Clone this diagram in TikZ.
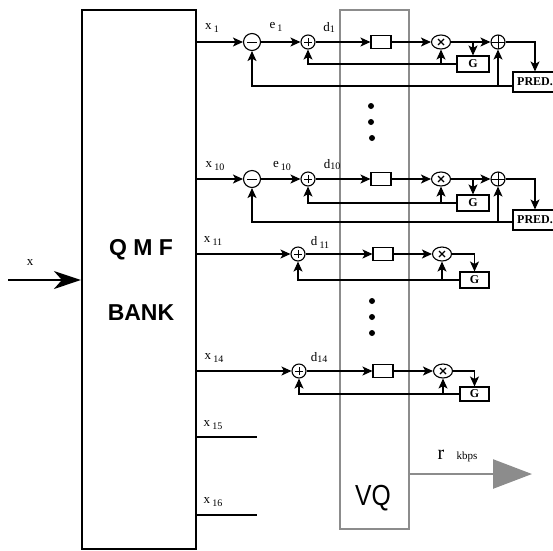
\documentclass[tikz,border=0pt]{standalone}
\usepackage{fontspec}
\setmainfont{Liberation Serif}
\newfontfamily\hv{Liberation Sans}
\usetikzlibrary{arrows.meta,shapes.geometric,calc}
\newcommand\sbx[2]{#1\,\raisebox{-3pt}{\fontsize{10}{10}\selectfont #2}}
\newcommand\sbd[2]{#1\raisebox{-1pt}{\fontsize{10}{10}\selectfont #2}}
\begin{document}
\begin{tikzpicture}[x=1pt,y=-1pt,
  ln/.style={line width=1.1pt},
  arr/.style={ln,-{Stealth[length=10pt,width=9pt,inset=2.5pt]}},
  subc/.style={circle,draw,ln,minimum size=17pt,inner sep=0pt,
    path picture={\draw[line width=1pt] ([xshift=-5pt]path picture bounding box.center)--([xshift=5pt]path picture bounding box.center);}},
  addc/.style={circle,draw,ln,minimum size=14pt,inner sep=0pt,
    path picture={\draw[line width=1pt] ([xshift=-4pt]path picture bounding box.center)--([xshift=4pt]path picture bounding box.center) ([yshift=-4pt]path picture bounding box.center)--([yshift=4pt]path picture bounding box.center);}},
  mulc/.style={ellipse,draw,ln,minimum width=19pt,minimum height=14pt,inner sep=0pt,
    path picture={\draw[line width=1.2pt] ([shift={(-3pt,-3pt)}]path picture bounding box.center)--([shift={(3pt,3pt)}]path picture bounding box.center) ([shift={(-3pt,3pt)}]path picture bounding box.center)--([shift={(3pt,-3pt)}]path picture bounding box.center);}},
  sumc/.style={circle,draw,ln,minimum size=14pt,inner sep=0pt,
    path picture={\draw[line width=1pt] (path picture bounding box.west)--(path picture bounding box.east) (path picture bounding box.north)--(path picture bounding box.south);}},
  qbox/.style={draw,ln,minimum width=20pt,minimum height=13pt,inner sep=0pt},
  gbox/.style={draw,ln,minimum width=32pt,minimum height=16pt,inner sep=0pt,font=\fontsize{12}{12}\selectfont\bfseries},
  predbox/.style={draw,ln,minimum width=44pt,minimum height=20pt,inner sep=0pt,font=\fontsize{12}{12}\selectfont\bfseries},
  lab/.style={inner sep=0pt,font=\fontsize{13}{13}\selectfont},
  dot/.style={circle,fill,inner sep=0pt,minimum size=6pt}
]
\useasboundingbox (0,0) rectangle (553,550);
\definecolor{vqgray}{RGB}{140,140,140}

% QMF bank
\node[draw,line width=2.2pt,minimum width=114pt,minimum height=539pt,inner sep=0pt] (qmf) at (139,279.5) {};
\node[inner sep=0pt,font=\hv\bfseries\fontsize{23}{23}\selectfont] (tq) at (141,250) {Q M F};
\node[inner sep=0pt,font=\hv\bfseries\fontsize{23}{23}\selectfont] (tb) at (141,313) {BANK};

% VQ box
\node[draw=vqgray,line width=2.5pt,minimum width=69pt,minimum height=519pt,inner sep=0pt] (vq) at (374.5,269.5) {};
\node[inner sep=0pt,font=\hv\fontsize{29}{29}\selectfont] (tvq) at (373,498) {\scalebox{0.85}[1]{VQ}};

% input
\coordinate (xin) at (8,280);
\draw[line width=2pt,-{Stealth[length=27pt,width=18pt,inset=8pt]}] (xin) -- (qmf.west |- xin);
\node[lab] (lx) at (30,263) {x};

% ---------- row 1 ----------
\node[subc] (s1) at (252,42) {};
\node[addc] (a1) at (308,42) {};
\node[qbox] (q1) at (381,42) {};
\node[mulc] (m1) at (441,42) {};
\node[sumc] (p1) at (498,42) {};
\node[gbox] (g1) at (473,64) {G};
\node[predbox] (r1) at (535,82) {PRED.};
\node[lab] (lx1) at (212,28) {\sbx{x}{1}};
\node[lab] (le1) at (276,27) {\sbx{e}{1}};
\node[lab] (ld1) at (329,27) {\sbd{d}{1}};
\draw[arr] (qmf.east |- s1) -- (s1);
\draw[arr] (s1) -- (a1);
\draw[arr] (a1) -- (q1);
\draw[arr] (q1) -- (m1);
\draw[arr] (m1) -- (p1);
\draw[arr] (g1.north |- m1) -- (g1.north);
\draw[arr] (g1.west) -| (a1);
\draw[arr] (m1 |- g1.west) -- (m1);
\draw[arr] (p1) -| (r1);
\coordinate (f1) at ([yshift=-4pt]r1.west);
\draw[arr] (f1) -| (s1);
\draw[arr] (p1 |- f1) -- (p1);

\node[dot] (d1a) at (371,106) {};
\node[dot] (d1b) at (371,122) {};
\node[dot] (d1c) at (372,138) {};

% ---------- row 10 ----------
\node[subc] (s10) at (252,179) {};
\node[addc] (a10) at (308,179) {};
\node[qbox] (q10) at (381,179) {};
\node[mulc] (m10) at (441,179) {};
\node[sumc] (p10) at (498,179) {};
\node[gbox] (g10) at (473,203) {G};
\node[predbox] (r10) at (535,220) {PRED.};
\node[lab] (lx10) at (215,166) {\sbx{x}{10}};
\node[lab] (le10) at (282,166) {\sbx{e}{10}};
\node[lab] (ld10) at (332,165) {\sbd{d}{10}};
\draw[arr] (qmf.east |- s10) -- (s10);
\draw[arr] (s10) -- (a10);
\draw[arr] (a10) -- (q10);
\draw[arr] (q10) -- (m10);
\draw[arr] (m10) -- (p10);
\draw[arr] (g10.north |- m10) -- (g10.north);
\draw[arr] (g10.west) -| (a10);
\draw[arr] (m10 |- g10.west) -- (m10);
\draw[arr] (p10) -| (r10);
\coordinate (f10) at ([yshift=-2pt]r10.west);
\draw[arr] (f10) -| (s10);
\draw[arr] (p10 |- f10) -- (p10);

% ---------- row 11 ----------
\node[addc] (a11) at (298,254) {};
\node[qbox] (q11) at (383,254) {};
\node[mulc] (m11) at (442,254) {};
\node[gbox,minimum width=29pt] (g11) at (474.5,280) {G};
\node[lab] (lx11) at (213,241) {\sbx{x}{11}};
\node[lab] (ld11) at (320,242) {\sbx{d}{11}};
\draw[arr] (qmf.east |- a11) -- (a11);
\draw[arr] (a11) -- (q11);
\draw[arr] (q11) -- (m11);
\draw[arr] (m11) -| (g11);
\draw[arr] (g11.west) -| (a11);
\draw[arr] (m11 |- g11.west) -- (m11);

\node[dot] (d2a) at (372,301) {};
\node[dot] (d2b) at (372,317) {};
\node[dot] (d2c) at (372,333) {};

% ---------- row 14 ----------
\node[addc] (a14) at (299,371) {};
\node[qbox] (q14) at (383,371) {};
\node[mulc] (m14) at (443,371) {};
\node[gbox,minimum width=29pt,minimum height=14pt] (g14) at (474.5,394) {G};
\node[lab] (lx14) at (214,358) {\sbx{x}{14}};
\node[lab] (ld14) at (319,357) {\sbd{d}{14}};
\draw[arr] (qmf.east |- a14) -- (a14);
\draw[arr] (a14) -- (q14);
\draw[arr] (q14) -- (m14);
\draw[arr] (m14) -| (g14);
\draw[arr] (g14.west) -| (a14);
\draw[arr] (m14 |- g14.west) -- (m14);

% ---------- x15, x16 ----------
\coordinate (e15) at (257,437);
\coordinate (e16) at (257,515);
\draw[ln] (qmf.east |- e15) -- (e15);
\draw[ln] (qmf.east |- e16) -- (e16);
\node[lab] (lx15) at (213,425) {\sbx{x}{15}};
\node[lab] (lx16) at (213,502) {\sbx{x}{16}};

% ---------- output ----------
\coordinate (rt) at (532,474);
\draw[draw=vqgray,line width=2.5pt,-{Triangle[length=39pt,width=29pt,color=vqgray]}] (vq.east |- rt) -- (rt);
\node[inner sep=0pt,font=\fontsize{20}{20}\selectfont] (lr) at (441,455) {r};
\node[inner sep=0pt,font=\fontsize{11}{11}\selectfont] (lk) at (467,457) {kbps};
\end{tikzpicture}
\end{document}
